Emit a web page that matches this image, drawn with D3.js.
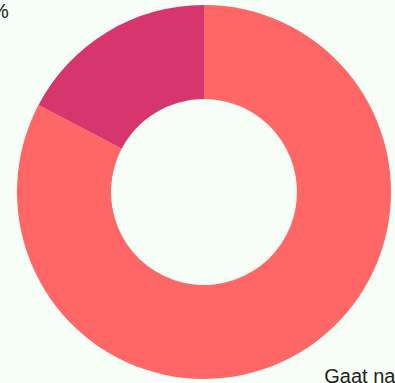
<!DOCTYPE html>
<html lang="nl">
<head>
  <meta charset="UTF-8">
  <title>Donut</title>
  <script src="https://cdn.jsdelivr.net/npm/d3@7"></script>
  <style>
    html, body { margin: 0; padding: 0; background: #f7fef7; overflow: hidden; }
    text { font-family: "Liberation Sans", Arial, sans-serif; }
  </style>
</head>
<body>
  <script>
    const categories = ["Gaat na", "Gaat niet na"];
    const values = [82.7, 17.3];
    const labels = ["Gaat na: 83%", "Gaat niet na: 17%"];
    const colors = ["#ff6666", "#d6366d"];

    const width = 395, height = 383;
    const cx = 204, cy = 192;
    const outerR = 187, innerR = 93;

    const svg = d3.select("body")
      .append("svg")
      .attr("width", width)
      .attr("height", height);

    const g = svg.append("g")
      .attr("transform", `translate(${cx},${cy})`);

    const pie = d3.pie().sort(null).value(d => d);
    const arcs = pie(values);

    const arc = d3.arc().innerRadius(innerR).outerRadius(outerR);

    const color = d3.scaleOrdinal().domain(categories).range(colors);

    g.selectAll("path")
      .data(arcs)
      .enter()
      .append("path")
      .attr("d", arc)
      .attr("fill", (d, i) => color(categories[i]));

    // labels outside the ring; left side anchored at its end
    const labelArc = d3.arc().innerRadius(221).outerRadius(221);
    const nudge = [[6, 2], [-81, 15]];

    g.selectAll("text")
      .data(arcs)
      .enter()
      .append("text")
      .attr("x", (d, i) => labelArc.centroid(d)[0] + nudge[i][0])
      .attr("y", (d, i) => labelArc.centroid(d)[1] + nudge[i][1])
      .attr("text-anchor", d => (d.startAngle + d.endAngle) / 2 > Math.PI ? "end" : "start")
      .attr("font-size", 20)
      .attr("fill", "#222")
      .text((d, i) => labels[i]);
  </script>
</body>
</html>
